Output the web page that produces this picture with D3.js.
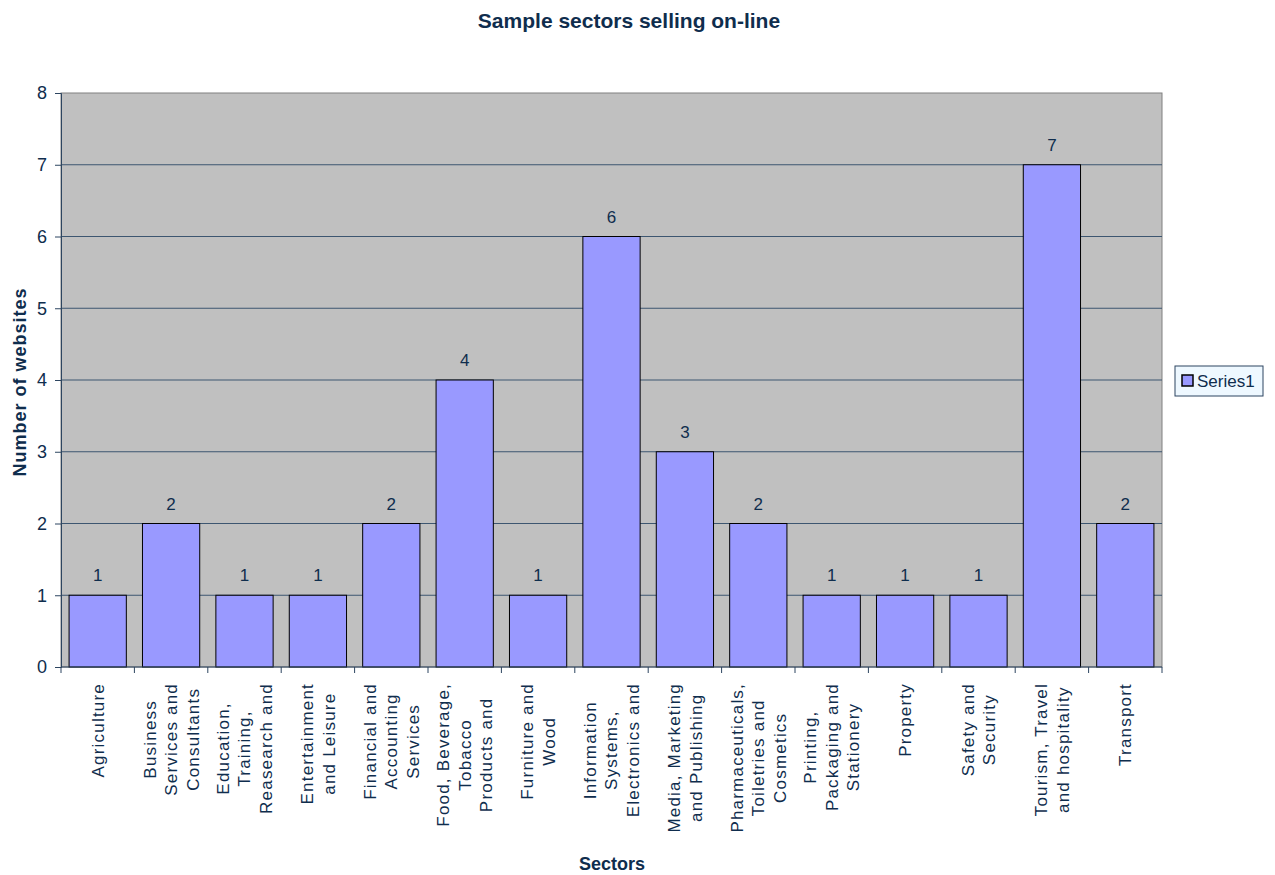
<!DOCTYPE html>
<html>
<head>
<meta charset="utf-8">
<script src="https://cdn.jsdelivr.net/npm/d3@7"></script>
<style>
  body { margin: 0; background: #fff; }
  svg text { font-family: "Liberation Sans", Arial, sans-serif; fill: #0f2d4d; }
</style>
</head>
<body>
<svg id="chart" width="1275" height="875"></svg>
<script>
// sector labels, as they are wrapped (and cut) under the axis
var sectors = [
  ["Agriculture"],
  ["Business", "Services and", "Consultants"],
  ["Education,", "Training,", "Reasearch and"],
  ["Entertainment", "and Leisure"],
  ["Financial and", "Accounting", "Services"],
  ["Food, Beverage,", "Tobacco", "Products and"],
  ["Furniture and", "Wood"],
  ["Information", "Systems,", "Electronics and"],
  ["Media, Marketing", "and Publishing"],
  ["Pharmaceuticals,", "Toiletries and", "Cosmetics"],
  ["Printing,", "Packaging and", "Stationery"],
  ["Property"],
  ["Safety and", "Security"],
  ["Tourism, Travel", "and hospitality"],
  ["Transport"]
];
var websites = [1, 2, 1, 1, 2, 4, 1, 6, 3, 2, 1, 1, 1, 7, 2];
var yTicks = [0, 1, 2, 3, 4, 5, 6, 7, 8];
var seriesName = "Series1";

(function () {
  var svg = d3.select("#chart");
  var pLeft = 61, pRight = 1162, pTop = 93, pBottom = 667;
  var ink = "#0f2d4d", axisCol = "#2d4560";

  var x = d3.scaleBand()
    .domain(d3.range(sectors.length))
    .range([pLeft, pRight])
    .paddingInner(0.22)
    .paddingOuter(0.11);

  var y = d3.scaleLinear().domain([0, 8]).range([pBottom, pTop]);

  // plot area
  svg.append("rect")
    .attr("x", pLeft).attr("y", pTop)
    .attr("width", pRight - pLeft).attr("height", pBottom - pTop)
    .attr("fill", "#c0c0c0")
    .attr("stroke", "#808080");

  // gridlines
  svg.append("g").selectAll("line")
    .data(yTicks.filter(d => d > 0 && d < 8))
    .enter().append("line")
    .attr("x1", pLeft).attr("x2", pRight)
    .attr("y1", d => y(d)).attr("y2", d => y(d))
    .attr("stroke", "#3d5670").attr("stroke-width", 1);

  // bars
  svg.append("g").selectAll("rect")
    .data(websites)
    .enter().append("rect")
    .attr("x", (d, i) => x(i))
    .attr("y", d => y(d))
    .attr("width", x.bandwidth())
    .attr("height", d => pBottom - y(d))
    .attr("fill", "#9999ff")
    .attr("stroke", "#000").attr("stroke-width", 1);

  // value labels
  svg.append("g").selectAll("text")
    .data(websites)
    .enter().append("text")
    .attr("x", (d, i) => x(i) + x.bandwidth() / 2)
    .attr("y", d => y(d) - 14)
    .attr("text-anchor", "middle")
    .style("font-size", "17px")
    .text(d => d);

  // y axis
  var yAxis = svg.append("g")
    .attr("transform", "translate(" + pLeft + ",0)")
    .call(d3.axisLeft(y).tickValues(yTicks).tickSize(6).tickPadding(8).tickFormat(d3.format("d")));
  yAxis.select(".domain").attr("stroke", axisCol);
  yAxis.selectAll(".tick line").attr("stroke", axisCol);
  yAxis.selectAll(".tick text")
    .style("font-size", "18px")
    .style("font-family", "'Liberation Sans', Arial, sans-serif")
    .attr("fill", ink);

  // x axis line and boundary ticks
  var xa = svg.append("g");
  xa.append("line")
    .attr("x1", pLeft).attr("x2", pRight)
    .attr("y1", pBottom).attr("y2", pBottom)
    .attr("stroke", axisCol);
  xa.selectAll("line.tk")
    .data(d3.range(sectors.length + 1))
    .enter().append("line")
    .attr("class", "tk")
    .attr("x1", i => pLeft + i * (pRight - pLeft) / sectors.length)
    .attr("x2", i => pLeft + i * (pRight - pLeft) / sectors.length)
    .attr("y1", pBottom).attr("y2", pBottom + 6)
    .attr("stroke", axisCol);

  // rotated category labels
  var lineH = 21.5, labelTop = 683;
  svg.append("g").selectAll("g")
    .data(sectors)
    .enter().append("g")
    .attr("transform", "rotate(-90)")
    .each(function (lines, i) {
      var cx = x(i) + x.bandwidth() / 2;
      var texts = d3.select(this).selectAll("text")
        .data(lines)
        .enter().append("text")
        .attr("text-anchor", "middle")
        .attr("dy", "0.35em")
        .style("font-size", "17px")
        .style("letter-spacing", "1.2px")
        .attr("y", (d, j) => cx + (j - (lines.length - 1) / 2) * lineH)
        .text(d => d);
      var maxW = 0;
      texts.each(function () { maxW = Math.max(maxW, this.getComputedTextLength()); });
      texts.attr("x", -(labelTop + maxW / 2));
    });

  // titles
  svg.append("text")
    .attr("x", 629).attr("y", 28)
    .attr("text-anchor", "middle")
    .style("font-size", "21px").style("font-weight", "bold")
    .text("Sample sectors selling on-line");

  svg.append("text")
    .attr("transform", "translate(26," + ((pTop + pBottom) / 2 + 2) + ") rotate(-90)")
    .attr("text-anchor", "middle")
    .style("font-size", "18px").style("font-weight", "bold")
    .style("letter-spacing", "1px")
    .text("Number of websites");

  svg.append("text")
    .attr("x", 612).attr("y", 870)
    .attr("text-anchor", "middle")
    .style("font-size", "18px").style("font-weight", "bold")
    .text("Sectors");

  // legend
  var lg = svg.append("g").attr("transform", "translate(1175,366)");
  lg.append("rect")
    .attr("width", 88).attr("height", 30)
    .attr("fill", "#eef8ff").attr("stroke", axisCol);
  lg.append("rect")
    .attr("x", 7).attr("y", 9).attr("width", 11).attr("height", 11)
    .attr("fill", "#9999ff").attr("stroke", "#000").attr("stroke-width", 1.5);
  lg.append("text")
    .attr("x", 22).attr("y", 21)
    .style("font-size", "17px")
    .text(seriesName);
})();
</script>
</body>
</html>
